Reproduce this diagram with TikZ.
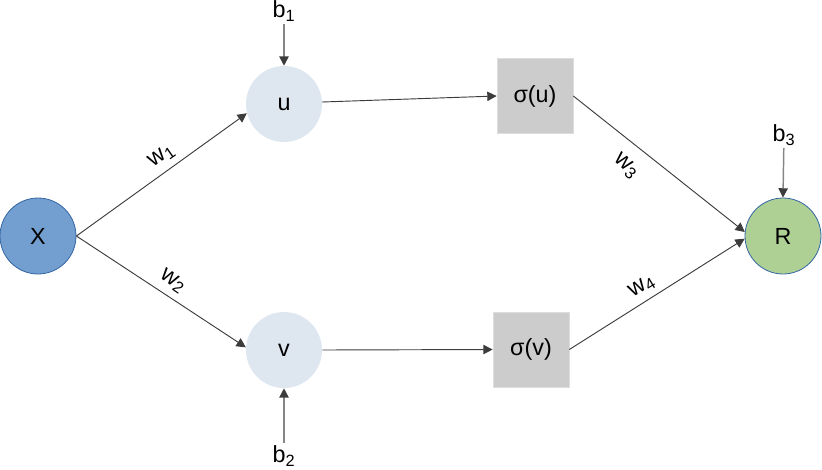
\documentclass[tikz,border=0pt]{standalone}
\usepackage{fontspec}
\setmainfont{Liberation Sans}
\usetikzlibrary{arrows.meta}
\definecolor{xblue}{HTML}{729FCF}
\definecolor{xborder}{HTML}{3465A4}
\definecolor{rgreen}{HTML}{AFD095}
\definecolor{hidfill}{HTML}{DEE6EF}
\definecolor{boxgray}{HTML}{CCCCCC}
\definecolor{boxborder}{HTML}{DDDDDD}
\definecolor{edgecol}{HTML}{3C3C3C}
\definecolor{biascol}{HTML}{858585}
\begin{document}
\begin{tikzpicture}[x=0.75pt,y=-0.75pt,
  every node/.style={font=\fontsize{17.5}{20}\selectfont},
  neuron/.style={circle, minimum size=57pt, inner sep=0pt},
  actbox/.style={rectangle, minimum width=57pt, minimum height=56pt, inner sep=0pt, fill=boxgray, draw=boxborder, line width=0.5pt},
  wlabel/.style={inner sep=0pt},
  blabel/.style={inner sep=2pt},
  edge/.style={draw=edgecol, line width=0.7pt, -{Triangle[length=7pt,width=7pt]}},
  bias/.style={draw=biascol, line width=1.1pt, -{Triangle[length=7pt,width=7pt,color=edgecol]}}
]
\useasboundingbox (0,0) rectangle (822,469);
% nodes
\node[neuron, fill=xblue, draw=xborder, line width=0.6pt] (X) at (38,236) {X};
\node[neuron, fill=hidfill] (u) at (284,104) {u};
\node[neuron, fill=hidfill] (v) at (284,350) {v};
\node[actbox] (su) at (535,96) {σ(u)};
\node[actbox] (sv) at (531,349.5) {σ(v)};
\node[neuron, fill=rgreen, draw=xborder, line width=0.6pt] (R) at (783,236) {R};
% bias labels
\node[blabel] (b1) at (284,11) {b\textsubscript{1}};
\node[blabel] (b2) at (284,456) {b\textsubscript{2}};
\node[blabel] (b3) at (784,135) {b\textsubscript{3}};
% weight labels
\node[wlabel, rotate=35] (w1) at (162,156) {w\textsubscript{1}};
\node[wlabel, rotate=-35] (w2) at (173,281) {w\textsubscript{2}};
\node[wlabel, rotate=-42] (w3) at (626,166) {w\textsubscript{3}};
\node[wlabel, rotate=31] (w4) at (642,287) {w\textsubscript{4}};
% edges
\draw[edge] (X.east) -- (u.194);
\draw[edge] (X.east) -- (v.176);
\draw[edge] (u.3) -- (su.west);
\draw[edge] (v.east) -- (sv.west);
\draw[edge] (su.east) -- (R.174);
\draw[edge] (sv.east) -- (R.184);
% biases
\draw[bias] (b1) -- (u.north);
\draw[bias] (b2) -- (v.south);
\draw[bias] (b3) -- (R.north);
\end{tikzpicture}
\end{document}
